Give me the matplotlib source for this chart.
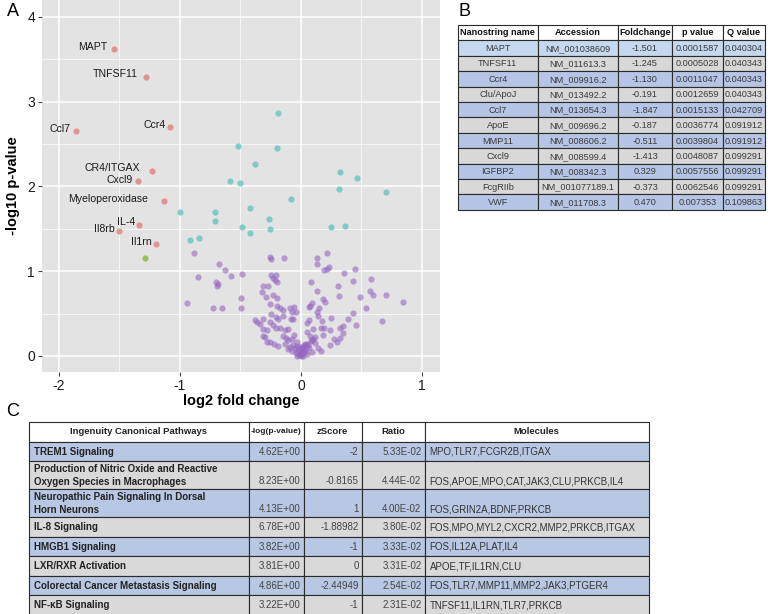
import numpy as np
import matplotlib
matplotlib.use("Agg")
import matplotlib.pyplot as plt
from matplotlib.patches import Rectangle

plt.rcParams['font.family'] = ['Liberation Sans', 'DejaVu Sans']
plt.rcParams['axes.unicode_minus'] = False

# ---- panel A data: labelled genes (red), one green point, cyan and purple genes
lab_names = ['MAPT', 'TNFSF11', 'Ccr4', 'Ccl7', 'CR4/ITGAX', 'Cxcl9',
             'Myeloperoxidase', 'IL-4', 'Il8rb', 'Il1rn']
lab_x = [-1.545, -1.277, -1.079, -1.863, -1.233, -1.349, -1.131, -1.338, -1.504, -1.198]
lab_y = [3.62, 3.29, 2.70, 2.65, 2.18, 2.06, 1.83, 1.54, 1.47, 1.315]

green_x = [-1.289]
green_y = [1.157]

cyan_x = [-0.193, -0.519, -0.199, -0.378, -0.590, -0.505, 0.323, 0.461, 0.312, 0.706,
          -0.083, -1.002, -0.714, -0.714, -0.422, -0.265, -0.483, -0.254, -0.422, 0.246,
          0.367, -0.913, -0.839]
cyan_y = [2.87, 2.48, 2.45, 2.26, 2.06, 2.035, 2.17, 2.10, 1.97, 1.93,
          1.85, 1.70, 1.70, 1.59, 1.74, 1.61, 1.52, 1.50, 1.45, 1.52,
          1.53, 1.37, 1.39]

purple_x = [-0.880, -0.676, -0.626, -0.577, -0.847, -0.700, -0.685, -0.690, -0.483, -0.257,
            -0.246, -0.141, -0.941, -0.728, -0.648, -0.497, -0.497, -0.246, -0.207, -0.229,
            -0.213, -0.201, -0.317, -0.270, -0.323, -0.290, -0.257, -0.229, -0.201, -0.201,
            -0.174, -0.146, -0.091, -0.058, -0.041, -0.077, -0.243, -0.207, -0.188, -0.146,
            -0.381, -0.362, -0.340, -0.312, -0.312, -0.279, -0.257, -0.229, -0.207, -0.174,
            -0.132, -0.105, -0.085, -0.064, -0.317, -0.298, -0.284, -0.257, -0.224, -0.188,
            -0.132, -0.105, -0.077, -0.064, -0.036, -0.022, -0.008, 0.006, 0.019, 0.033,
            0.047, 0.069, -0.090, -0.070, -0.050, -0.040, -0.030, -0.020, -0.010, 0.000,
            0.000, 0.010, 0.020, 0.030, 0.040, 0.050, 0.070, 0.080, -0.110, -0.120,
            -0.150, 0.100, -0.060, 0.090, -0.030, 0.015, -0.015, 0.130, 0.218, 0.130,
            0.190, 0.234, 0.218, 0.353, 0.450, 0.430, 0.582, 0.080, 0.306, 0.132,
            0.571, 0.599, 0.315, 0.491, 0.704, 0.842, 0.180, 0.199, 0.091, 0.075,
            0.152, 0.130, 0.143, 0.433, 0.538, 0.248, 0.387, 0.668, 0.069, 0.052,
            0.171, 0.102, 0.163, 0.190, 0.240, 0.323, 0.345, 0.455, 0.350, 0.047,
            0.075, 0.116, 0.185, 0.273, 0.323, 0.300, 0.240, 0.163, 0.033, 0.060,
            0.088, 0.116, 0.143, 0.019]
purple_y = [1.22, 1.08, 1.01, 0.94, 0.93, 0.87, 0.85, 0.83, 0.97, 1.17,
            1.145, 1.15, 0.63, 0.57, 0.56, 0.68, 0.56, 0.96, 0.96, 0.92,
            0.89, 0.87, 0.82, 0.83, 0.75, 0.70, 0.61, 0.72, 0.68, 0.59,
            0.56, 0.54, 0.56, 0.58, 0.52, 0.52, 0.50, 0.46, 0.44, 0.47,
            0.42, 0.40, 0.38, 0.44, 0.32, 0.30, 0.40, 0.36, 0.33, 0.335,
            0.31, 0.32, 0.43, 0.43, 0.24, 0.22, 0.16, 0.165, 0.146, 0.115,
            0.146, 0.185, 0.205, 0.126, 0.165, 0.087, 0.047, 0.02, 0.067, 0.126,
            0.028, 0.58, 0.10, 0.06, 0.09, 0.03, 0.12, 0.05, 0.10, 0.00,
            0.04, 0.09, 0.12, 0.05, 0.08, 0.14, 0.09, 0.17, 0.08, 0.21,
            0.23, 0.20, 0.25, 0.05, 0.00, 0.00, 0.015, 1.157, 1.216, 1.08,
            1.01, 1.05, 1.03, 0.973, 1.02, 0.88, 0.905, 0.867, 0.826, 0.76,
            0.767, 0.713, 0.705, 0.69, 0.713, 0.638, 0.666, 0.638, 0.626, 0.587,
            0.56, 0.52, 0.47, 0.508, 0.563, 0.453, 0.433, 0.41, 0.42, 0.39,
            0.413, 0.323, 0.33, 0.33, 0.30, 0.335, 0.35, 0.36, 0.27, 0.28,
            0.233, 0.225, 0.245, 0.205, 0.217, 0.165, 0.126, 0.059, 0.146, 0.126,
            0.185, 0.153, 0.099, 0.067]

# ---- panel B data
b_header = ['Nanostring name', 'Accession', 'Foldchange', 'p value', 'Q value']
b_names = ['MAPT', 'TNFSF11', 'Ccr4', 'Clu/ApoJ', 'Ccl7', 'ApoE', 'MMP11', 'Cxcl9',
           'IGFBP2', 'FcgRIIb', 'VWF']
b_access = ['NM_001038609', 'NM_011613.3', 'NM_009916.2', 'NM_013492.2', 'NM_013654.3',
            'NM_009696.2', 'NM_008606.2', 'NM_008599.4', 'NM_008342.3', 'NM_001077189.1',
            'NM_011708.3']
b_fold = ['-1.501', '-1.245', '-1.130', '-0.191', '-1.847', '-0.187', '-0.511', '-1.413',
          '0.329', '-0.373', '0.470']
b_p = ['0.0001587', '0.0005028', '0.0011047', '0.0012659', '0.0015133', '0.0036774',
       '0.0039804', '0.0048087', '0.0057556', '0.0062546', '0.007353']
b_q = ['0.040304', '0.040343', '0.040343', '0.040343', '0.042709', '0.091912', '0.091912',
       '0.099291', '0.099291', '0.099291', '0.109863']

# ---- panel C data
c_header = ['Ingenuity Canonical Pathways', '-log(p-value)', 'zScore', 'Ratio', 'Molecules']
c_path = ['TREM1 Signaling',
          'Production of Nitric Oxide and Reactive\nOxygen Species in Macrophages',
          'Neuropathic Pain Signaling In Dorsal\nHorn Neurons',
          'IL-8 Signaling', 'HMGB1 Signaling', 'LXR/RXR Activation',
          'Colorectal Cancer Metastasis Signaling', 'NF-\u03baB Signaling']
c_logp = ['4.62E+00', '8.23E+00', '4.13E+00', '6.78E+00', '3.82E+00', '3.81E+00',
          '4.86E+00', '3.22E+00']
c_z = ['-2', '-0.8165', '1', '-1.88982', '-1', '0', '-2.44949', '-1']
c_ratio = ['5.33E-02', '4.44E-02', '4.00E-02', '3.80E-02', '3.33E-02', '3.31E-02',
           '2.54E-02', '2.31E-02']
c_mol = ['MPO,TLR7,FCGR2B,ITGAX', 'FOS,APOE,MPO,CAT,JAK3,CLU,PRKCB,IL4',
         'FOS,GRIN2A,BDNF,PRKCB', 'FOS,MPO,MYL2,CXCR2,MMP2,PRKCB,ITGAX',
         'FOS,IL12A,PLAT,IL4', 'APOE,TF,IL1RN,CLU', 'FOS,TLR7,MMP11,MMP2,JAK3,PTGER4',
         'TNFSF11,IL1RN,TLR7,PRKCB']

W, H = 768, 614
fig = plt.figure(figsize=(W / 100, H / 100), dpi=100)

# ---------------- panel A: volcano plot
ax = fig.add_axes([42 / W, 1 - 372 / H, 398 / W, 372 / H])
ax.set_facecolor('#e3e3e3')
ax.set_xlim(-2.14, 1.15)
ax.set_ylim(-0.19, 4.2)
ax.set_xticks([-2, -1, 0, 1])
ax.set_yticks([0, 1, 2, 3, 4])
ax.set_xticks([-1.5, -0.5, 0.5], minor=True)
ax.set_yticks([0.5, 1.5, 2.5, 3.5], minor=True)
ax.grid(True, which='major', color='white', lw=1.1)
ax.grid(True, which='minor', color='white', lw=0.5)
ax.set_axisbelow(True)
for s in ax.spines.values():
    s.set_visible(False)
ax.tick_params(which='major', length=3, width=0.8, color='#444444', labelsize=10,
               labelcolor='#1a1a1a', pad=2)
ax.tick_params(which='minor', length=0)

ax.scatter(purple_x, purple_y, s=20, color='#9566c0', alpha=0.6, lw=0)
ax.scatter(cyan_x, cyan_y, s=20, color='#5cc3bd', alpha=0.75, lw=0)
ax.scatter(green_x, green_y, s=20, color='#8fbd3e', alpha=0.85, lw=0)
ax.scatter(lab_x, lab_y, s=20, color='#e07f7c', alpha=0.8, lw=0)

label_offsets = {'MAPT': (-4.5, 1.5), 'TNFSF11': (-6.5, 2.0), 'Ccr4': (-3.5, 1.5),
                 'Ccl7': (-3.5, 1.5), 'CR4/ITGAX': (-8.5, 2.5), 'Cxcl9': (-3.5, 1.2),
                 'Myeloperoxidase': (-11.5, 1.5), 'IL-4': (-3.0, 2.8),
                 'Il8rb': (-3.0, 1.5), 'Il1rn': (-3.0, 1.8)}
for n, x, y in zip(lab_names, lab_x, lab_y):
    ax.annotate(n, (x, y), xytext=label_offsets[n], textcoords='offset points',
                ha='right', va='center', fontsize=7.6, color='#1a1a1a')

ax.set_xlabel('log2 fold change', fontsize=10.5, fontweight='bold', labelpad=1)
ax.set_ylabel('-log10 p-value', fontsize=10.5, fontweight='bold', labelpad=5)

# ---------------- panels B and C: tables drawn in pixel space
tb = fig.add_axes([0, 0, 1, 1])
tb.set_xlim(0, W)
tb.set_ylim(H, 0)
tb.axis('off')

fig.text(7 / W, 1 - 11 / H, 'A', fontsize=13, va='center', ha='left')
fig.text(459 / W, 1 - 11 / H, 'B', fontsize=13, va='center', ha='left')
fig.text(6 / W, 1 - 411 / H, 'C', fontsize=13, va='center', ha='left')

def cell(x0, y0, x1, y1, fc):
    tb.add_patch(Rectangle((x0, y0), x1 - x0, y1 - y0, facecolor=fc,
                           edgecolor='#2a2a2a', lw=0.8))

# table B
bx = [458, 537.5, 618, 672, 722.5, 765]
by0, bh = 25, 15.4
cols_b = [b_names, b_access, b_fold, b_p, b_q]
for j, h in enumerate(b_header):
    cell(bx[j], by0, bx[j + 1], by0 + bh, 'white')
    tb.text((bx[j] + bx[j + 1]) / 2, by0 + bh / 2, h, ha='center', va='center',
            fontsize=6.6, fontweight='bold', color='#111111')
for i in range(len(b_names)):
    y0 = by0 + bh * (i + 1)
    fc = '#c6d8ef' if i == 0 else ('#b6c4e6' if i % 2 == 0 else '#d8d8d8')
    for j in range(5):
        cell(bx[j], y0, bx[j + 1], y0 + bh, fc)
        tb.text((bx[j] + bx[j + 1]) / 2, y0 + bh / 2 + 0.5, cols_b[j][i], ha='center',
                va='center', fontsize=6.6, color='#3a3a3a')

# table C
cx = [29, 248.5, 303.5, 361.5, 424.5, 648.5]
cy = [421.5, 441.5]
for p in c_path:
    cy.append(cy[-1] + (28 if '\n' in p else 19.5))
for j, h in enumerate(c_header):
    cell(cx[j], cy[0], cx[j + 1], cy[1], 'white')
    tb.text((cx[j] + cx[j + 1]) / 2, (cy[0] + cy[1]) / 2, h, ha='center', va='center',
            fontsize=6.0 if h.startswith('-') else 6.8, fontweight='bold', color='#222222')
for i in range(len(c_path)):
    y0, y1 = cy[i + 1], cy[i + 2]
    fc = '#b8c7e3' if i % 2 == 0 else '#d9d9d9'
    for j in range(5):
        cell(cx[j], y0, cx[j + 1], y1, fc)
    tb.text(cx[0] + 5, (y0 + y1) / 2 + 0.5, c_path[i], ha='left', va='center', fontsize=7,
            fontweight='bold', color='#222222', linespacing=1.3)
    yb = (y0 + y1) / 2 + 0.5 if '\n' not in c_path[i] else y1 - 7.5
    tb.text(cx[2] - 3, yb, c_logp[i], ha='right', va='center', fontsize=7, color='#444444')
    tb.text(cx[3] - 3, yb, c_z[i], ha='right', va='center', fontsize=7, color='#444444')
    tb.text(cx[4] - 3, yb, c_ratio[i], ha='right', va='center', fontsize=7, color='#444444')
    tb.text(cx[4] + 5, yb, c_mol[i], ha='left', va='center', fontsize=7, color='#333333')

fig.savefig('out.png', dpi=100)
